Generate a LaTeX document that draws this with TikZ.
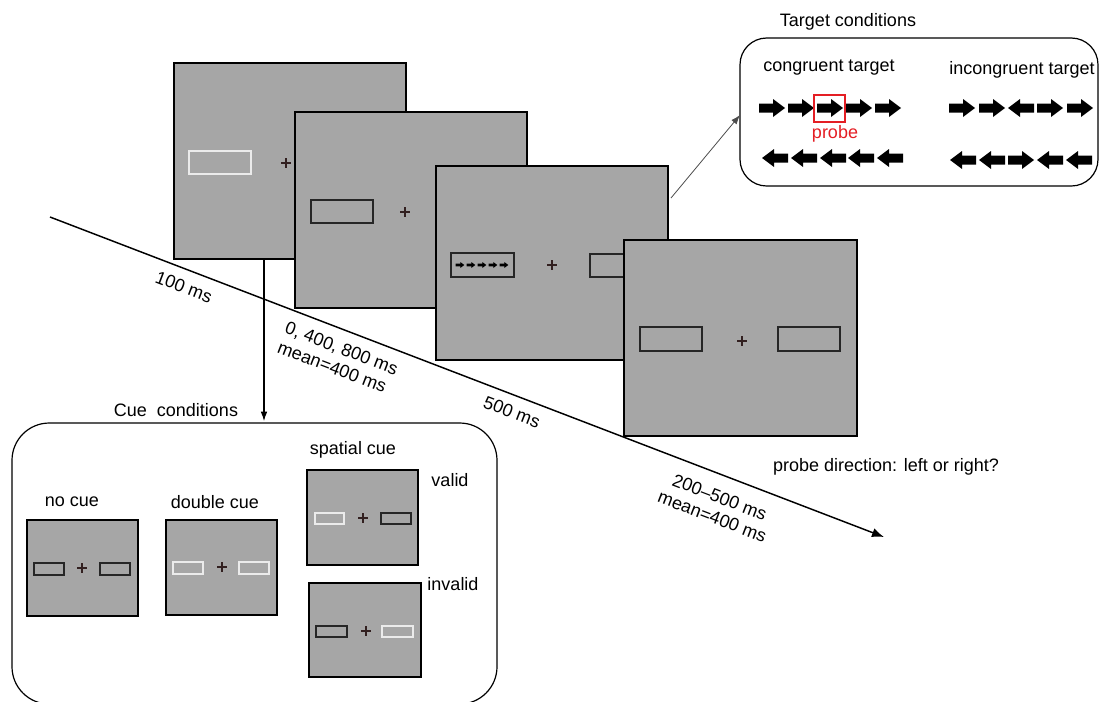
\documentclass[tikz,border=0pt]{standalone}
\usepackage{fontspec}
\setmainfont{Liberation Sans}
\usetikzlibrary{arrows.meta}
\definecolor{scrgray}{RGB}{166,166,166}
\definecolor{probered}{RGB}{228,30,36}
\definecolor{fixcol}{RGB}{50,32,32}
\tikzset{
  screen/.style={draw=black,fill=scrgray,line width=1.8pt},
  darkbox/.style={draw=black!85,line width=0.8pt},
  lightbox/.style={draw=white!92!black,line width=0.9pt},
  panel/.style={draw=black,line width=0.9pt,rounded corners=28pt},
  lbl/.style={font=\fontsize{13.5}{15.5}\selectfont,inner sep=0pt},
  tlbl/.style={lbl,rotate=-21,align=left},
  rarr/.pic={\fill (-13,-4.5) -- (1,-4.5) -- (1,-9) -- (13,0) -- (1,9) -- (1,4.5) -- (-13,4.5) -- cycle;},
  fix/.pic={\draw[fixcol,line width=0.8pt] (-5,0) -- (5,0) (0,-5) -- (0,5);},
}
\begin{document}
\begin{tikzpicture}[line cap=butt,line join=miter,x=0.75pt,y=-0.75pt]
\useasboundingbox (0,0) rectangle (1099,701);
% screen 1: cue
\draw [screen] (174,63) rectangle (406,259);
\draw [lightbox] (189,151) rectangle (251,174);
\pic at (286,163) {fix};
% screen 2: fixation
\draw [screen] (295,112) rectangle (527,308);
\draw [darkbox] (311,200) rectangle (373,223);
\pic at (405,212) {fix};
% screen 3: target
\draw [screen] (436,166) rectangle (668,360);
\draw [darkbox] (451,253) rectangle (514,277);
\foreach \i in {0,...,4}
  \pic [scale=0.33] at (460+11*\i,265) {rarr};
\pic at (552,265) {fix};
\draw [darkbox] (590,254) rectangle (630,277);
\coordinate (s3corner) at (671,198);
% screen 4: response
\draw [screen] (624,240) rectangle (857,436);
\draw [darkbox] (640,327) rectangle (702,351);
\draw [darkbox] (778,327) rectangle (840,351);
\pic at (742,341) {fix};
% time line
\coordinate (tstart) at (50,217);
\coordinate (tend) at (884,537);
\draw [line width=1.1pt,-{Latex[length=9pt,width=7pt]}] (tstart) -- (tend);
\node [tlbl] (d1) at (184,287) {100 ms};
\node [tlbl] (d2) at (338,358) {0, 400, 800 ms\\mean=400 ms};
\node [tlbl] (d3) at (512,412) {500 ms};
\node [tlbl,align=center] (d4) at (716,507) {200--500 ms\\mean=400 ms};
\node [lbl] (resp) at (886,467) {probe direction: left or right?};
% cue conditions
\coordinate (cuefrom) at (264,259);
\coordinate (cueto) at (264,421);
\draw [line width=0.8pt,-{Latex[length=7pt,width=5pt]}] (cuefrom) -- (cueto);
\draw [panel] (12,423) rectangle (497,704);
\node [lbl] (cuetitle) at (176,410) {Cue\ \ conditions};
\node [lbl] (nocue) at (72,502) {no cue};
\draw [screen,line width=1.5pt] (27,520) rectangle (138,616);
\draw [darkbox] (34,563) rectangle (64,575);
\draw [darkbox] (100,563) rectangle (130,575);
\pic at (82,568) {fix};
\node [lbl] (dblcue) at (215,502) {double cue};
\draw [screen,line width=1.5pt] (166,520) rectangle (277,615);
\draw [lightbox] (173,562) rectangle (203,574);
\draw [lightbox] (239,562) rectangle (269,574);
\pic at (222,567) {fix};
\node [lbl] (spcue) at (353,450) {spatial cue};
\draw [screen,line width=1.5pt] (307,470) rectangle (418,565);
\draw [lightbox] (315,513) rectangle (344,524);
\draw [darkbox] (381,513) rectangle (411,524);
\pic at (363,518) {fix};
\node [lbl] (valid) at (450,480) {valid};
\draw [screen,line width=1.5pt] (309,583) rectangle (421,677);
\draw [darkbox] (316,626) rectangle (347,637);
\draw [lightbox] (382,626) rectangle (413,637);
\pic at (366,631) {fix};
\node [lbl] (invalid) at (453,584) {invalid};
% target conditions
\draw [panel,rounded corners=20pt] (740,38) rectangle (1098,186);
\coordinate (tgtin) at (740,115);
\draw [black!70,line width=0.6pt,-{Latex[length=7pt,width=5pt]}] (s3corner) -- (tgtin);
\node [lbl] (tgttitle) at (848,22) {Target conditions};
\node [lbl] (cong) at (829,68) {congruent target};
\node [lbl] (incong) at (1022,70) {incongruent target};
\foreach \x in {772,801,830,859,888}
  \pic at (\x,108) {rarr};
\foreach \x in {775,804,833,861,890}
  \pic [xscale=-1] at (\x,158) {rarr};
\draw [probered,line width=0.9pt] (814,95) rectangle (845,122);
\node [lbl,text=probered] (probe) at (835,134) {probe};
\foreach \x/\s in {962/1,992/1,1021/-1,1050/1,1080/1}
  \pic [xscale=\s] at (\x,108) {rarr};
\foreach \x/\s in {963/-1,992/-1,1021/1,1050/-1,1079/-1}
  \pic [xscale=\s] at (\x,160) {rarr};
\end{tikzpicture}
\end{document}
